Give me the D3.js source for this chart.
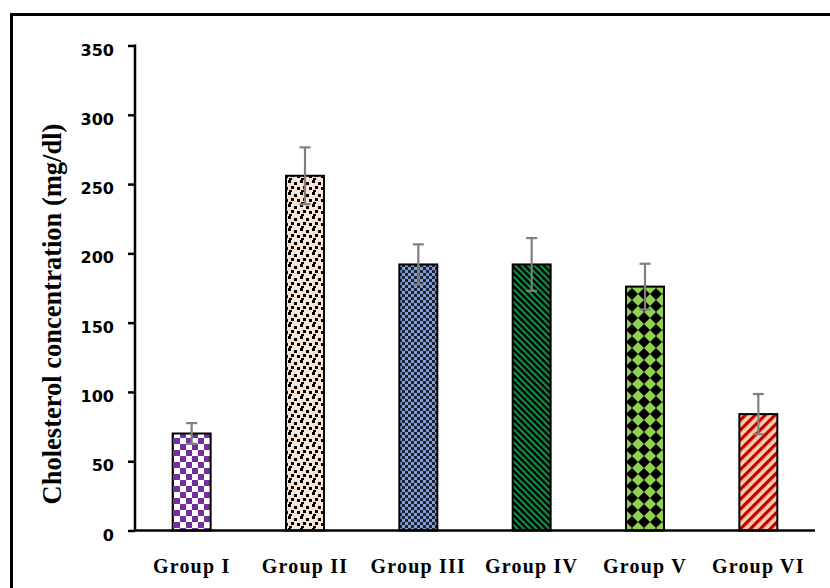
<!DOCTYPE html>
<html>
<head>
<meta charset="utf-8">
<script src="https://cdn.jsdelivr.net/npm/d3@7/dist/d3.min.js"></script>
<style>
  html, body { margin: 0; padding: 0; background: #fff; }
  svg { display: block; }
</style>
</head>
<body>
<svg id="chart" width="830" height="588"></svg>
<script>
// Serum cholesterol by treatment group (mean ± SD)
const groups = ["Group I", "Group II", "Group III", "Group IV", "Group V", "Group VI"];
const cholesterol = [70, 256, 192, 192, 176, 84];
const sd = [7.5, 20.5, 14.5, 19, 16.5, 14.5];
const yTicks = [0, 50, 100, 150, 200, 250, 300, 350];

const svg = d3.select("#chart");
const plotLeft = 135, plotRight = 815, plotTop = 45.5, plotBottom = 530.5;

const x = d3.scaleBand().domain(groups).range([plotLeft, plotRight])
  .paddingInner(0.665).paddingOuter(0.3325);
const y = d3.scaleLinear().domain([0, 350]).range([plotBottom, plotTop]);

// Frame around the whole figure
svg.append("rect")
  .attr("x", 11.5).attr("y", 14.5).attr("width", 840).attr("height", 600)
  .attr("fill", "none").attr("stroke", "#000").attr("stroke-width", 3);

// Fill patterns, one per group
const defs = svg.append("defs");

// purple checkerboard
let p = defs.append("pattern").attr("id", "pat0").attr("patternUnits", "userSpaceOnUse")
  .attr("width", 12).attr("height", 12);
p.append("rect").attr("width", 12).attr("height", 12).attr("fill", "#fff");
p.append("rect").attr("width", 6).attr("height", 6).attr("fill", "#7030A0");
p.append("rect").attr("x", 6).attr("y", 6).attr("width", 6).attr("height", 6).attr("fill", "#7030A0");

// black confetti on peach
p = defs.append("pattern").attr("id", "pat1").attr("patternUnits", "userSpaceOnUse")
  .attr("width", 12).attr("height", 12);
p.append("rect").attr("width", 12).attr("height", 12).attr("fill", "#FBE5D6");
[[0, 0], [6, 2], [3, 6], [9, 7], [1, 10]].forEach(([a, b]) =>
  p.append("rect").attr("x", a).attr("y", b).attr("width", 3).attr("height", 3).attr("fill", "#000"));

// small blue / navy checkerboard
p = defs.append("pattern").attr("id", "pat2").attr("patternUnits", "userSpaceOnUse")
  .attr("width", 6).attr("height", 6);
p.append("rect").attr("width", 6).attr("height", 6).attr("fill", "#7E9FDC");
p.append("rect").attr("width", 3).attr("height", 3).attr("fill", "#1C2232");
p.append("rect").attr("x", 3).attr("y", 3).attr("width", 3).attr("height", 3).attr("fill", "#1C2232");

// green diagonal stripes on black
p = defs.append("pattern").attr("id", "pat3").attr("patternUnits", "userSpaceOnUse")
  .attr("width", 4.5).attr("height", 4.5).attr("patternTransform", "rotate(-45)");
p.append("rect").attr("width", 4.5).attr("height", 4.5).attr("fill", "#000");
p.append("rect").attr("width", 2).attr("height", 4.5).attr("fill", "#0E9A45");

// black diamonds on light green
p = defs.append("pattern").attr("id", "pat4").attr("patternUnits", "userSpaceOnUse")
  .attr("width", 12).attr("height", 12).attr("x", 2).attr("y", 0);
p.append("rect").attr("width", 12).attr("height", 12).attr("fill", "#92D050");
p.append("polygon").attr("points", "6,0 12,6 6,12 0,6").attr("fill", "#000");

// red diagonal stripes on peach
p = defs.append("pattern").attr("id", "pat5").attr("patternUnits", "userSpaceOnUse")
  .attr("width", 7).attr("height", 7).attr("patternTransform", "rotate(45)");
p.append("rect").attr("width", 7).attr("height", 7).attr("fill", "#F8CBAD");
p.append("rect").attr("width", 3.2).attr("height", 7).attr("fill", "#C00000");

// Bars
svg.append("g").selectAll("rect").data(groups).join("rect")
  .attr("x", d => x(d)).attr("width", x.bandwidth())
  .attr("y", (d, i) => y(cholesterol[i]))
  .attr("height", (d, i) => y(0) - y(cholesterol[i]))
  .attr("fill", (d, i) => `url(#pat${i})`)
  .attr("stroke", "#000").attr("stroke-width", 2);

// Error bars
const eb = svg.append("g").attr("stroke", "#7F7F7F").attr("stroke-width", 2.2);
groups.forEach((g, i) => {
  const cx = x(g) + x.bandwidth() / 2;
  const hi = y(cholesterol[i] + sd[i]), lo = y(cholesterol[i] - sd[i]);
  eb.append("line").attr("x1", cx).attr("x2", cx).attr("y1", hi).attr("y2", lo);
  eb.append("line").attr("x1", cx - 5.5).attr("x2", cx + 5.5).attr("y1", hi).attr("y2", hi);
  eb.append("line").attr("x1", cx - 5.5).attr("x2", cx + 5.5).attr("y1", lo).attr("y2", lo);
});

// Y axis
const yAxis = svg.append("g").attr("transform", `translate(${plotLeft},0)`)
  .call(d3.axisLeft(y).tickValues(yTicks).tickSizeOuter(0).tickSize(7).tickPadding(14));
yAxis.select(".domain").attr("stroke", "#000").attr("stroke-width", 2.5)
  .attr("d", `M0,${plotTop - 1}V${plotBottom}`);
yAxis.selectAll(".tick line").attr("stroke", "#000").attr("stroke-width", 2.5);
yAxis.selectAll(".tick text")
  .attr("font-family", "DejaVu Sans").attr("font-weight", "bold").attr("font-size", 16)
  .attr("fill", "#000").attr("dy", "0.6em");

// X axis baseline and group labels
const xAxis = svg.append("g").attr("transform", `translate(0,${plotBottom})`)
  .call(d3.axisBottom(x).tickSize(0).tickPadding(0));
xAxis.select(".domain").attr("stroke", "#000").attr("stroke-width", 2.5)
  .attr("d", `M${plotLeft},0H${plotRight}`);
xAxis.selectAll(".tick text")
  .attr("font-family", "Liberation Serif").attr("font-weight", "bold").attr("font-size", 20)
  .attr("letter-spacing", 1.2).attr("fill", "#000").attr("dy", 0).attr("y", 42);

// Y axis title
svg.append("text")
  .attr("transform", `translate(61,${(plotTop + plotBottom) / 2 + 26}) rotate(-90)`)
  .attr("text-anchor", "middle")
  .attr("font-family", "Liberation Serif").attr("font-weight", "bold").attr("font-size", 26.5)
  .text("Cholesterol concentration (mg/dl)");
</script>
</body>
</html>
